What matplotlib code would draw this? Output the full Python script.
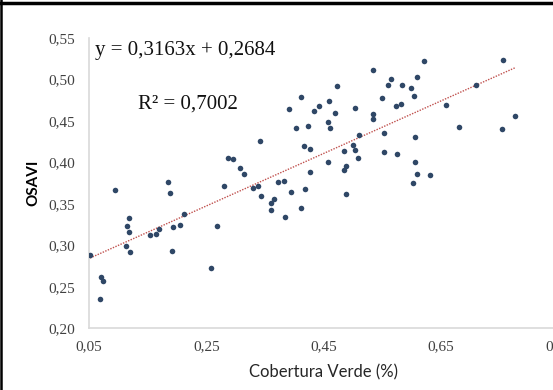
import numpy as np
import matplotlib
matplotlib.use("Agg")
import matplotlib.pyplot as plt
from matplotlib.lines import Line2D

# cobertura verde (fração) x OSAVI
cobertura = [0.0517, 0.0710, 0.0744, 0.0688, 0.0943, 0.1182, 0.1148, 0.1182, 0.1136, 0.1194,
             0.1545, 0.1642, 0.1699, 0.1852, 0.1876, 0.1932, 0.2052, 0.2115, 0.1910, 0.2585,
             0.2677, 0.2807, 0.2875, 0.2960, 0.3080, 0.3138, 0.3291, 0.3376, 0.3421, 0.3433,
             0.3598, 0.3608, 0.3654, 0.3722, 0.3820, 0.3842, 0.3910, 0.3944, 0.4029, 0.4120,
             0.4161, 0.4183, 0.4229, 0.4268, 0.4273, 0.4336, 0.4422, 0.4570, 0.4580, 0.4604,
             0.4592, 0.4700, 0.4110, 0.4734, 0.4843, 0.4882, 0.4843, 0.4887, 0.4996, 0.5041,
             0.5087, 0.5109, 0.5030, 0.5337, 0.5491, 0.5347, 0.5347, 0.5535, 0.5525, 0.5757,
             0.5603, 0.5654, 0.5734, 0.5820, 0.5832, 0.5990, 0.6041, 0.6087, 0.6212, 0.6058,
             0.6058, 0.6087, 0.6019, 0.6319, 0.6592, 0.6814, 0.7098, 0.7564, 0.7537, 0.7769]
osavi = [0.2886, 0.2614, 0.2573, 0.2353, 0.3662, 0.3328, 0.3236, 0.3163, 0.2988, 0.2915,
         0.3127, 0.3136, 0.3192, 0.3758, 0.3626, 0.3220, 0.3244, 0.3377, 0.2927, 0.2730,
         0.3228, 0.3717, 0.4055, 0.4039, 0.3927, 0.3858, 0.3686, 0.3717, 0.4252, 0.3593,
         0.3428, 0.3513, 0.3554, 0.3762, 0.3770, 0.3337, 0.4641, 0.3645, 0.4416, 0.3452,
         0.4199, 0.3674, 0.4436, 0.4163, 0.3882, 0.4614, 0.4681, 0.4003, 0.4485, 0.4416,
         0.4738, 0.4597, 0.4789, 0.4915, 0.4135, 0.3958, 0.3903, 0.3621, 0.4211, 0.4151,
         0.4051, 0.4324, 0.4657, 0.5115, 0.4774, 0.4585, 0.4517, 0.4356, 0.4123, 0.4099,
         0.4930, 0.4999, 0.4681, 0.4705, 0.4930, 0.4891, 0.4798, 0.5023, 0.5223, 0.4304,
         0.4006, 0.3855, 0.3746, 0.3843, 0.4689, 0.4424, 0.4930, 0.5231, 0.4400, 0.4560]

# regressão linear
a, b = 0.3163, 0.2684
r2 = 0.7002

xticks = [0.05, 0.25, 0.45, 0.65, 0.85]
yticks = [0.20, 0.25, 0.30, 0.35, 0.40, 0.45, 0.50, 0.55]

fmt = lambda v: f"{v:.2f}".replace(".", ",")

fig = plt.figure(figsize=(5.53, 3.90), dpi=100)
ax = fig.add_axes([0.161, 0.158, 0.8485, 0.745])

ax.scatter(cobertura, osavi, s=16, color="#2f4766", zorder=3, linewidths=0)

xl = np.array([min(cobertura), max(cobertura)])
ax.plot(xl, a * xl + b, color="#c0504d", lw=1.0, ls=(0, (1, 1)), zorder=2)

ax.set_xlim(0.05, 0.85)
ax.set_ylim(0.20, 0.55)
ax.set_xticks(xticks)
ax.set_yticks(yticks)
ax.set_xticklabels([fmt(v) for v in xticks], family="Liberation Serif", fontsize=11, color="#404040")
ax.set_yticklabels([fmt(v) for v in yticks], family="Liberation Serif", fontsize=11, color="#404040")
ax.tick_params(length=0)
ax.tick_params(axis="y", pad=10)
ax.tick_params(axis="x", pad=8.5)

for s in ["top", "right"]:
    ax.spines[s].set_visible(False)
for s in ["left", "bottom"]:
    ax.spines[s].set_color("#d9d9d9")
    ax.spines[s].set_linewidth(1.2)

ax.set_xlabel("Cobertura Verde (%)", family="Lato", fontsize=12, color="#262626", labelpad=8)
ax.set_ylabel("OSAVI", family="Lato", fontsize=11, fontweight="bold", color="#000000", labelpad=6)

fig.text(95 / 553, 1 - 50 / 390, f"y = {a:.4f}x + {b:.4f}".replace(".", ","),
         family="Liberation Serif", fontsize=15, va="center", ha="left", color="#111111")
fig.text(138 / 553, 1 - 104 / 390, f"R² = {r2:.4f}".replace(".", ","),
         family="Liberation Serif", fontsize=15, va="center", ha="left", color="#111111")

# moldura
fig.add_artist(Line2D([0, 1], [1 - 2.5 / 390] * 2, color="black", lw=2.5, transform=fig.transFigure))
fig.add_artist(Line2D([1 / 553] * 2, [0, 1], color="black", lw=1.8, transform=fig.transFigure))

fig.savefig("out.png", dpi=100)
